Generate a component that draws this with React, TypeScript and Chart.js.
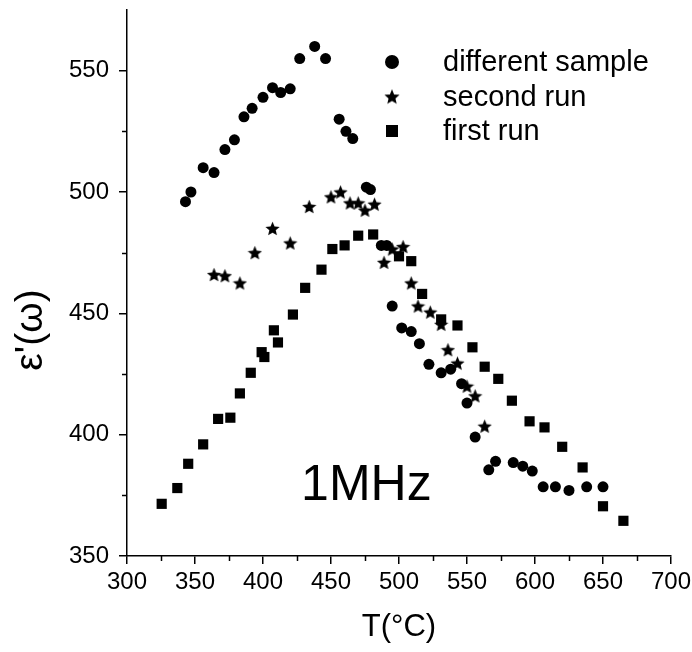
import React, { useEffect, useRef } from 'react';
import { Chart, registerables } from 'chart.js';

Chart.register(...registerables);

const FONT = "Arial, 'Liberation Sans', Helvetica, sans-serif";

// different sample (circles)
const sampleT = [343, 347, 356, 364, 372, 379, 386, 392, 400, 407, 413, 420, 427, 438, 446, 456, 461, 466, 476, 479, 487, 491, 495, 502, 509, 515, 522, 531, 538, 546, 550, 556, 566, 571, 584, 591, 598, 606, 615, 625, 638, 650];
const sampleEps = [496, 500, 510, 508, 517.5, 521.5, 531, 534.5, 539, 543, 541, 542.5, 555, 560, 555, 530, 525, 522, 502, 501, 478, 478, 453, 444, 442.5, 437.5, 429, 425.5, 427, 421, 413, 399, 385.5, 389, 388.5, 387, 385, 378.5, 378.5, 377, 378.5, 378.5];

// second run (stars)
const secondT = [364, 372, 383, 394, 407, 420, 434, 450, 457, 464, 470, 475, 482, 489, 495, 503, 509, 514, 523, 531, 536, 543, 550, 556, 563];
const secondEps = [466, 465.5, 462.5, 475, 485, 479, 494, 498, 500, 495.5, 495.5, 492.5, 495, 471, 476.5, 477.5, 462.5, 453, 450.5, 445.5, 435, 429.5, 420, 416, 403.5];

// first run (squares)
const firstT = [325.5, 337, 345, 356, 367, 376, 383, 391, 399, 401, 408, 411, 422, 431, 443, 451, 460, 470, 481, 500, 509, 517, 531, 543, 554, 563, 573, 583, 596, 607, 620, 635, 650, 665];
const firstEps = [371.5, 378, 388, 396, 406.5, 407, 417, 425.5, 434, 432, 443, 438, 449.5, 460.5, 468, 476.5, 478, 482, 482.5, 473.5, 471.5, 458, 447.5, 445, 436, 428, 423, 414, 405.5, 403, 395, 386.5, 370.5, 364.5];

const seriesLabels = ['different sample', 'second run', 'first run'];
const xMinorTicks = [325, 375, 425, 475, 525, 575, 625, 675];
const yMinorTicks = [375, 425, 475, 525];
const xTitle = 'T(°C)';
const yTitle = "ε'(ω)";
const annotationText = '1MHz';
const annotationT = 428;
const annotationEps = 373;

function makeStar(size: number): HTMLCanvasElement {
  const c = document.createElement('canvas');
  c.width = size;
  c.height = size;
  const g = c.getContext('2d')!;
  const R = size / 2;
  const r = R * 0.45;
  const cx = size / 2;
  const cy = size / 2 + R * 0.1;
  g.beginPath();
  for (let i = 0; i < 10; i++) {
    const rad = i % 2 === 0 ? R : r;
    const a = -Math.PI / 2 + (i * Math.PI) / 5;
    const px = cx + rad * Math.cos(a);
    const py = cy + rad * Math.sin(a);
    if (i === 0) g.moveTo(px, py);
    else g.lineTo(px, py);
  }
  g.closePath();
  g.fillStyle = '#000';
  g.fill();
  return c;
}

export default function App() {
  const ref = useRef<HTMLCanvasElement | null>(null);

  useEffect(() => {
    if (!ref.current) return;
    const star = makeStar(15);
    const legendStar = makeStar(16);

    const extras = {
      id: 'extras',
      afterDraw(chart: any) {
        const { ctx, scales, chartArea } = chart;
        const x = scales.x;
        const y = scales.y;
        ctx.save();
        // minor ticks
        ctx.strokeStyle = '#000';
        ctx.lineWidth = 1.5;
        for (const v of xMinorTicks) {
          const p = Math.round(x.getPixelForValue(v)) + 0.5;
          ctx.beginPath();
          ctx.moveTo(p, chartArea.bottom);
          ctx.lineTo(p, chartArea.bottom + 5);
          ctx.stroke();
        }
        for (const v of yMinorTicks) {
          const p = Math.round(y.getPixelForValue(v)) + 0.5;
          ctx.beginPath();
          ctx.moveTo(chartArea.left, p);
          ctx.lineTo(chartArea.left - 5, p);
          ctx.stroke();
        }
        // y title
        ctx.fillStyle = '#000';
        ctx.font = `39px ${FONT}`;
        ctx.textAlign = 'center';
        ctx.textBaseline = 'middle';
        ctx.translate(31, 330);
        ctx.rotate(-Math.PI / 2);
        ctx.fillText(yTitle, 0, 0);
        ctx.restore();

        // annotation
        ctx.save();
        ctx.fillStyle = '#000';
        ctx.font = `50px ${FONT}`;
        ctx.textAlign = 'left';
        ctx.textBaseline = 'alphabetic';
        ctx.fillText(annotationText, x.getPixelForValue(annotationT), y.getPixelForValue(annotationEps));
        ctx.restore();

        // legend
        ctx.save();
        ctx.fillStyle = '#000';
        const lx = 392;
        const ly0 = 62;
        const dy = 34.5;
        ctx.beginPath();
        ctx.arc(lx, ly0, 7, 0, Math.PI * 2);
        ctx.fill();
        ctx.drawImage(legendStar, lx - 8, ly0 + dy - 8);
        ctx.fillRect(lx - 6, ly0 + 2 * dy - 6, 12, 12);
        ctx.font = `29px ${FONT}`;
        ctx.textAlign = 'left';
        ctx.textBaseline = 'middle';
        seriesLabels.forEach((t, i) => ctx.fillText(t, 443, ly0 + i * dy + 1));
        ctx.restore();
      },
    };

    const chart = new Chart(ref.current, {
      type: 'scatter',
      data: {
        datasets: [
          {
            label: seriesLabels[0],
            data: sampleT.map((t, i) => ({ x: t, y: sampleEps[i] })),
            pointStyle: 'circle',
            pointRadius: 5.5,
            backgroundColor: '#000',
            borderColor: '#000',
            borderWidth: 0,
          },
          {
            label: seriesLabels[1],
            data: secondT.map((t, i) => ({ x: t, y: secondEps[i] })),
            pointStyle: star as any,
            pointRadius: 7,
            backgroundColor: '#000',
            borderColor: '#000',
            borderWidth: 0,
          },
          {
            label: seriesLabels[2],
            data: firstT.map((t, i) => ({ x: t, y: firstEps[i] })),
            pointStyle: 'rect',
            pointRadius: 7.2,
            backgroundColor: '#000',
            borderColor: '#000',
            borderWidth: 0,
          },
        ],
      },
      options: {
        animation: false,
        responsive: false,
        devicePixelRatio: 1,
        layout: { padding: { top: 10, right: 21, left: 0, bottom: 0 } },
        plugins: {
          legend: { display: false },
          tooltip: { enabled: false },
        },
        scales: {
          x: {
            type: 'linear',
            min: 300,
            max: 700,
            border: { display: true, color: '#000', width: 1.5 },
            grid: { display: true, drawOnChartArea: false, color: '#000', lineWidth: 1.5, tickLength: 8 },
            ticks: { stepSize: 50, color: '#000', font: { family: FONT, size: 24 }, padding: 4, maxRotation: 0 },
            title: { display: true, text: xTitle, color: '#000', font: { family: FONT, size: 31 }, padding: { top: 0, bottom: 6 } },
            afterFit: (s: any) => {
              s.height = 96;
              s.paddingLeft = 0;
              s.paddingRight = 0;
            },
          },
          y: {
            type: 'linear',
            min: 350,
            max: 575,
            border: { display: true, color: '#000', width: 1.5 },
            grid: { display: true, drawOnChartArea: false, color: '#000', lineWidth: 1.5, tickLength: 8 },
            ticks: { stepSize: 50, includeBounds: false, color: '#000', font: { family: FONT, size: 24 }, padding: 10 },
            afterFit: (s: any) => {
              s.width = 127;
              s.paddingTop = 0;
              s.paddingBottom = 0;
            },
          },
        },
      },
      plugins: [extras],
    } as any);

    return () => chart.destroy();
  }, []);

  return (
    <div style={{ position: 'absolute', left: 0, top: 0, width: 692, height: 652, background: '#fff' }}>
      <canvas ref={ref} width={692} height={652} />
    </div>
  );
}
